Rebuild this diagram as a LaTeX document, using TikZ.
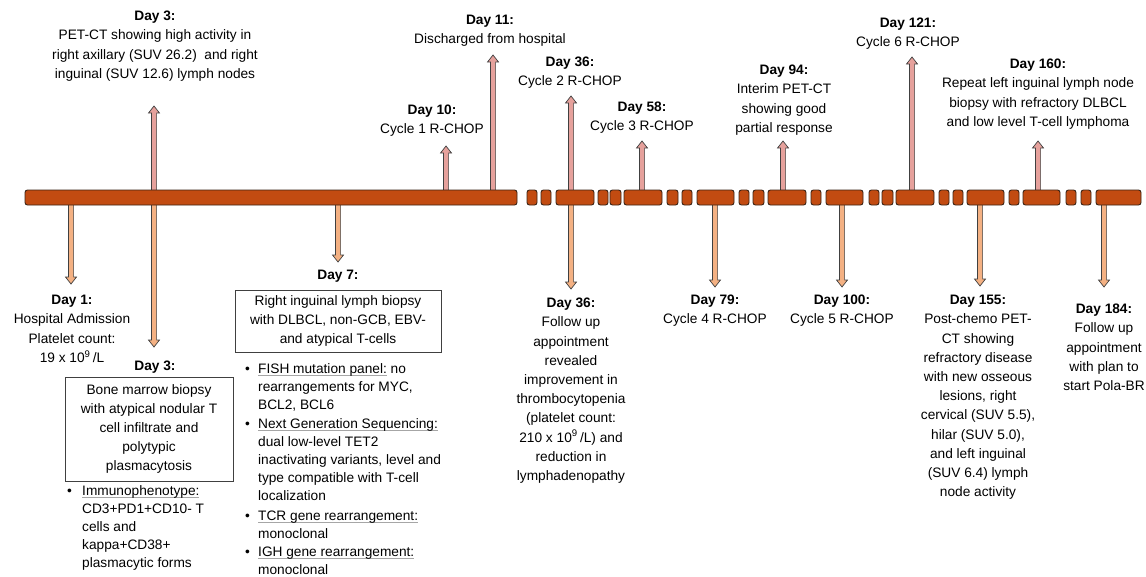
\documentclass[tikz,border=0pt]{standalone}
\usepackage{fontspec}
\setmainfont{Liberation Sans}
\definecolor{barfill}{HTML}{C24B11}
\definecolor{barline}{HTML}{3B2416}
\definecolor{upfill}{HTML}{E6A19C}
\definecolor{downfill}{HTML}{F4B183}
\definecolor{arrline}{HTML}{404040}
\newcommand\fs{\fontsize{13.7}{19.2}\selectfont}
\newcommand\fsb{\fontsize{13.7}{18}\selectfont}
\newcommand\gul[1]{\setbox0\hbox{#1}\rlap{\color{black!35}\rule[-2.6pt]{\wd0}{0.8pt}}\box0\relax}
\newcommand\bul{\makebox[13pt][l]{\textbullet}}
\newcommand\ind{\makebox[13pt]{}}
\newcommand\UpArr[2]{\draw[uparr] ({#1-2.6},195) -- ({#1-2.6},{#2+7}) -- ({#1-5.5},{#2+7}) -- (#1,#2) -- ({#1+5.5},{#2+7}) -- ({#1+2.6},{#2+7}) -- ({#1+2.6},195) -- cycle;}
\newcommand\DnArr[2]{\draw[dnarr] ({#1-2.6},200) -- ({#1-2.6},{#2-7}) -- ({#1-5.5},{#2-7}) -- (#1,#2) -- ({#1+5.5},{#2-7}) -- ({#1+2.6},{#2-7}) -- ({#1+2.6},200) -- cycle;}
\tikzset{
 seg/.style={draw=barline, fill=barfill, line width=0.9pt, rounded corners=2.5pt},
 uparr/.style={draw=arrline, fill=upfill, line width=0.7pt},
 dnarr/.style={draw=arrline, fill=downfill, line width=0.7pt},
 lbl/.style={align=center, inner sep=0pt, anchor=north, font=\fs},
 boxed/.style={draw=black!75, line width=0.7pt, align=center, inner sep=0pt, font=\fs},
 blist/.style={align=left, inner sep=0pt, anchor=north west, font=\fsb},
}
\begin{document}
\begin{tikzpicture}[x=1pt,y=-1pt]
\useasboundingbox[fill=white] (0,0) rectangle (1146,576);
% arrows (up)
\UpArr{154}{106}
\UpArr{446}{146}
\UpArr{493}{55}
\UpArr{571}{96}
\UpArr{642}{141}
\UpArr{783}{141}
\UpArr{912}{57}
\UpArr{1038}{141}
% arrows (down)
\DnArr{71}{284}
\DnArr{154}{347}
\DnArr{338}{262}
\DnArr{571}{289}
\DnArr{715}{287}
\DnArr{842}{287}
\DnArr{980}{286}
\DnArr{1104}{287}
% timeline bar
\foreach \a/\b [count=\i] in {25/517,527/537,541/551,556/594,598/608,610/621,624/662,667/678,682/692,697/734,739/749,753/764,768/806,811/821,826/863,869/879,882/893,896/934,939/949,953/963,967/1004,1009/1019,1023/1060,1066/1076,1081/1091,1096/1141}
  \draw[seg] (\a,190) rectangle (\b,205);
% top labels
\node[lbl] (t3) at (155,11) {\textbf{Day 3:}\\PET-CT showing high activity in\\right axillary (SUV 26.2)\ \ and right\\inguinal (SUV 12.6) lymph nodes};
\node[lbl] (t11) at (490,15) {\textbf{Day 11:}\\Discharged from hospital};
\node[lbl] (t10) at (432,105) {\textbf{Day 10:}\\Cycle 1 R-CHOP};
\node[lbl] (t36) at (570,57) {\textbf{Day 36:}\\Cycle 2 R-CHOP};
\node[lbl] (t58) at (642,102) {\textbf{Day 58:}\\Cycle 3 R-CHOP};
\node[lbl] (t94) at (784,65) {\textbf{Day 94:}\\Interim PET-CT\\showing good\\partial response};
\node[lbl] (t121) at (908,18) {\textbf{Day 121:}\\Cycle 6 R-CHOP};
\node[lbl] (t160) at (1038,59) {\textbf{Day 160:}\\Repeat left inguinal lymph node\\biopsy with refractory DLBCL\\and low level T-cell lymphoma};
% bottom labels
\node[lbl] (b1) at (72,295) {\textbf{Day 1:}\\Hospital Admission\\Platelet count:\\19 x 10\textsuperscript{9}\,/L};
\node[lbl] (b3t) at (155,361) {\textbf{Day 3:}};
\node[boxed, minimum width=168pt, minimum height=104pt] (b3box) at (149,429) {Bone marrow biopsy\\with atypical nodular T\\cell infiltrate and\\polytypic\\plasmacytosis};
\node[blist] (b3list) at (67,485) {\makebox[15pt][l]{\textbullet}\gul{Immunophenotype:}\\\makebox[15pt]{}CD3+PD1+CD10- T\\\makebox[15pt]{}cells and\\\makebox[15pt]{}kappa+CD38+\\\makebox[15pt]{}plasmacytic forms};
\node[lbl] (b7t) at (338,270) {\textbf{Day 7:}};
\node[boxed, minimum width=206pt, minimum height=62pt] (b7box) at (338,321) {Right inguinal lymph biopsy\\with DLBCL, non-GCB, EBV-\\and atypical T-cells};
\node[blist] (b7list) at (245,363) {\bul\gul{FISH mutation panel:} no\\\ind rearrangements for MYC,\\\ind BCL2, BCL6\\[1.5pt]\bul\gul{Next Generation Sequencing:}\\\ind dual low-level TET2\\\ind inactivating variants, level and\\\ind type compatible with T-cell\\\ind localization\\[1.5pt]\bul\gul{TCR gene rearrangement:}\\\ind monoclonal\\\bul\gul{IGH gene rearrangement:}\\\ind monoclonal};
\node[lbl] (b36) at (571,298) {\textbf{Day 36:}\\Follow up\\appointment\\revealed\\improvement in\\thrombocytopenia\\(platelet count:\\210 x 10\textsuperscript{9}\,/L) and\\reduction in\\lymphadenopathy};
\node[lbl] (b79) at (715,295) {\textbf{Day 79:}\\Cycle 4 R-CHOP};
\node[lbl] (b100) at (842,295) {\textbf{Day 100:}\\Cycle 5 R-CHOP};
\node[lbl] (b155) at (978,295) {\textbf{Day 155:}\\Post-chemo PET-\\CT showing\\refractory disease\\with new osseous\\lesions, right\\cervical (SUV 5.5),\\hilar (SUV 5.0),\\and left inguinal\\(SUV 6.4) lymph\\node activity};
\node[lbl] (b184) at (1104,304) {\textbf{Day 184:}\\Follow up\\appointment\\with plan to\\start Pola-BR};
\end{tikzpicture}
\end{document}
